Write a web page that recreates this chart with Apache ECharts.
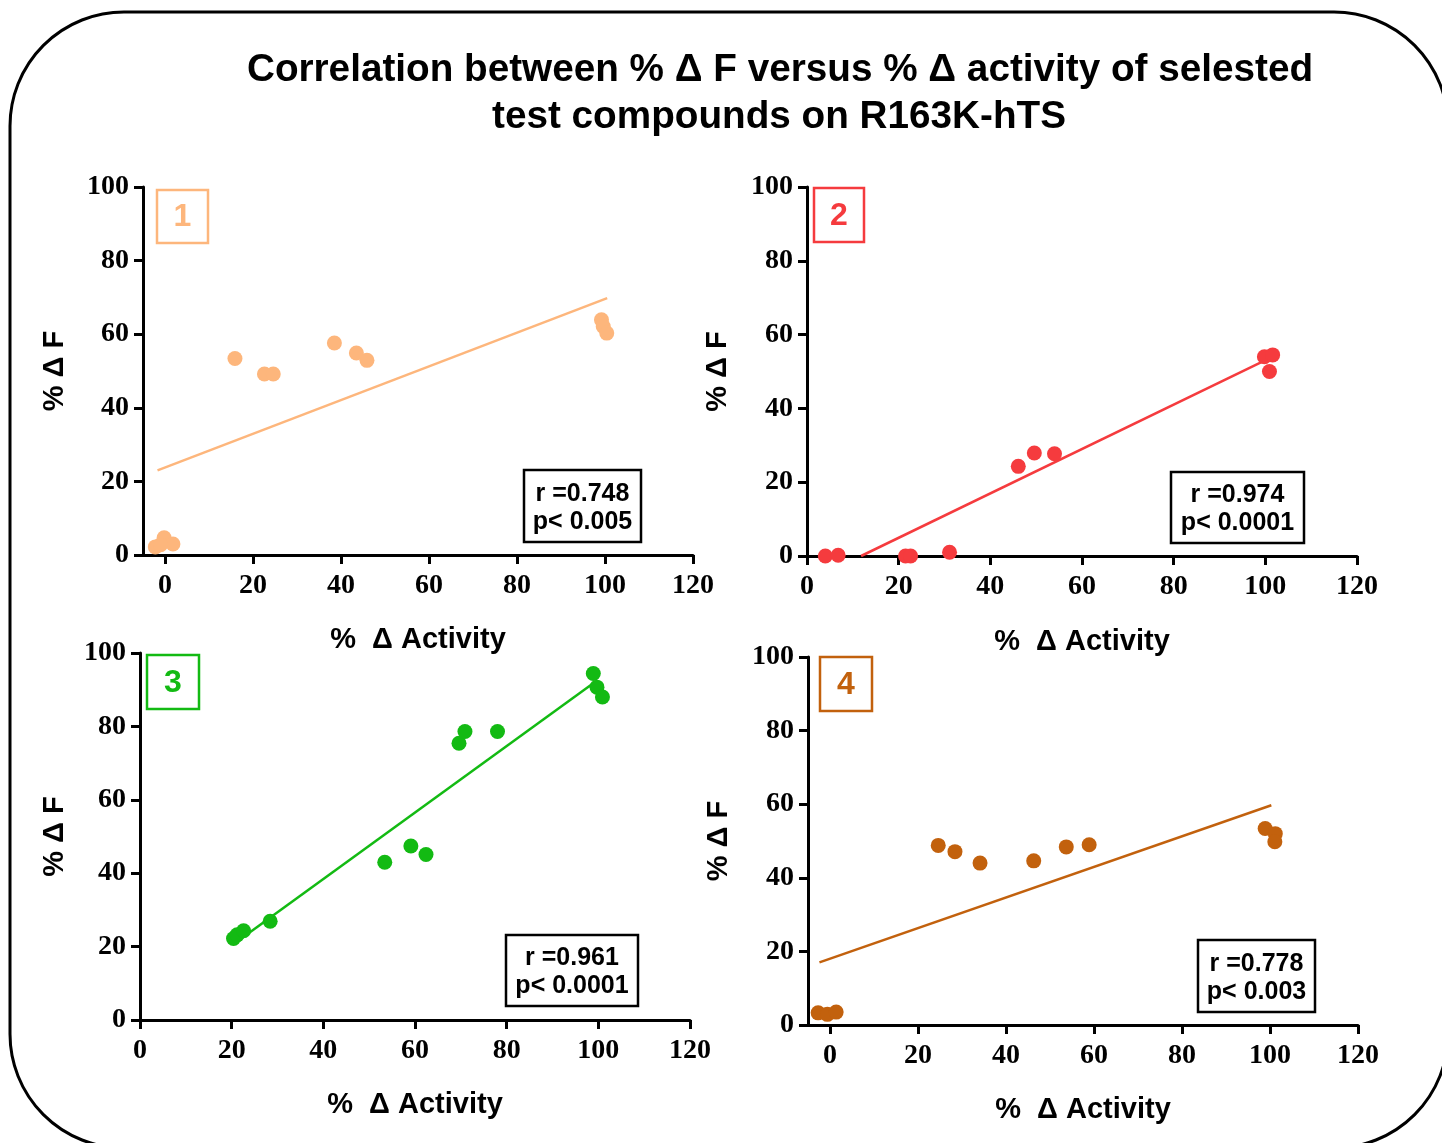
<!DOCTYPE html>
<html><head><meta charset="utf-8">
<script src="https://cdn.jsdelivr.net/npm/echarts@6/dist/echarts.min.js"></script>
<style>html,body{margin:0;padding:0;background:#fff}#c{width:1442px;height:1143px}</style>
</head><body><div id="c"></div>
<script>
// ---- data ----
const xTicks = [0, 20, 40, 60, 80, 100, 120];
const yTicks = [0, 20, 40, 60, 80, 100];
const titleLines = ['Correlation between % \u0394 F versus % \u0394 activity of selested', 'test compounds on R163K-hTS'];
const xTitle = '%  \u0394 Activity';
const yTitle = '% \u0394 F';
const panelNames = ['1', '2', '3', '4'];
const rValues = ['r =0.748', 'r =0.974', 'r =0.961', 'r =0.778'];
const pValues = ['p< 0.005', 'p< 0.0001', 'p< 0.0001', 'p< 0.003'];

const p1X = [-2.2, -0.2, 1.8, -1.0, 15.9, 22.6, 24.6, 38.5, 43.5, 45.9, 99.2, 99.6, 100.4];
const p1Y = [2.2, 4.7, 3.0, 2.8, 53.4, 49.2, 49.2, 57.6, 54.9, 52.9, 63.9, 62.1, 60.3];
const fit1X = [-1.7, 100.5];
const fit1Y = [23.0, 69.8];

const p2X = [4.0, 6.8, 21.5, 22.6, 31.1, 46.1, 49.6, 54.0, 99.8, 101.6, 100.9];
const p2Y = [0, 0.2, 0, 0, 1.0, 24.3, 27.9, 27.7, 54.0, 54.5, 50.0];
const fit2X = [11.8, 99.6];
const fit2Y = [0, 52.8];

const p3X = [20.4, 21.2, 22.6, 28.4, 53.4, 59.1, 62.4, 69.6, 70.9, 78.0, 98.9, 99.7, 100.9];
const p3Y = [22.2, 23.2, 24.3, 26.9, 43.0, 47.4, 45.1, 75.4, 78.6, 78.6, 94.4, 90.7, 88.0];
const fit3X = [20.3, 99.2];
const fit3Y = [20.6, 92.0];

const p4X = [-2.7, -0.6, 1.4, 24.6, 28.4, 34.1, 46.3, 53.7, 58.9, 98.9, 101.2, 101.1];
const p4Y = [3.3, 2.9, 3.5, 48.8, 47.1, 44.0, 44.6, 48.4, 49.0, 53.4, 52.0, 49.8];
const fit4X = [-2.4, 100.3];
const fit4Y = [17.0, 59.7];

// ---- style / layout ----
const colors = ['#FDB67C', '#F53B3E', '#13BA13', '#C2610D'];
const grids = [
  {left: 143, top: 187, width: 550, height: 368},
  {left: 807, top: 187, width: 550, height: 369},
  {left: 140, top: 653, width: 550, height: 367},
  {left: 808, top: 657, width: 550, height: 368}
];
const xMins = [-5, 0, 0, -5];
const xNameGap = [70, 71, 70, 70];
const yNameGap = [74, 75, 71, 75];
const numBoxes = [
  {x: 157, y: 190, w: 51, h: 53},
  {x: 814, y: 188, w: 50, h: 54},
  {x: 147, y: 655, w: 52, h: 54},
  {x: 820, y: 657, w: 52, h: 54}
];
const statBoxes = [
  {x: 524, y: 470, w: 117, h: 72},
  {x: 1171, y: 472, w: 133, h: 71},
  {x: 506, y: 935, w: 132, h: 71},
  {x: 1198, y: 940, w: 117, h: 72}
];

const pts = [[p1X, p1Y], [p2X, p2Y], [p3X, p3Y], [p4X, p4Y]];
const fits = [[fit1X, fit1Y], [fit2X, fit2Y], [fit3X, fit3Y], [fit4X, fit4Y]];
const zip = (a, b) => a.map((v, i) => [v, b[i]]);

const serif = '"Liberation Serif", "Times New Roman", serif';
const sans = '"Liberation Sans", Arial, sans-serif';

const xAxes = [], yAxes = [], series = [], graphics = [];
for (let i = 0; i < 4; i++) {
  xAxes.push({
    type: 'value', gridIndex: i, min: xMins[i], max: 120,
    name: xTitle, nameLocation: 'middle', nameGap: xNameGap[i],
    nameTextStyle: {fontFamily: sans, fontWeight: 'bold', fontSize: 29, color: '#000'},
    axisLine: {onZero: false, lineStyle: {color: '#000', width: 3}},
    axisTick: {show: true, length: 9, inside: false, customValues: xTicks, lineStyle: {color: '#000', width: 3}},
    axisLabel: {customValues: xTicks, margin: 17, fontFamily: serif, fontWeight: 'bold', fontSize: 28, color: '#000'},
    splitLine: {show: false}
  });
  yAxes.push({
    type: 'value', gridIndex: i, min: 0, max: 100, interval: 20,
    name: yTitle, nameLocation: 'middle', nameGap: yNameGap[i], nameRotate: 90,
    nameTextStyle: {fontFamily: sans, fontWeight: 'bold', fontSize: 29, color: '#000'},
    axisLine: {onZero: false, lineStyle: {color: '#000', width: 3}},
    axisTick: {show: true, length: 9, inside: false, lineStyle: {color: '#000', width: 3}},
    axisLabel: {margin: 14, fontFamily: serif, fontWeight: 'bold', fontSize: 28, color: '#000'},
    splitLine: {show: false}
  });
  series.push({
    type: 'line', xAxisIndex: i, yAxisIndex: i, data: zip(fits[i][0], fits[i][1]),
    showSymbol: false, symbol: 'none', lineStyle: {color: colors[i], width: 2.5}, z: 2, silent: true
  });
  series.push({
    type: 'scatter', xAxisIndex: i, yAxisIndex: i, data: zip(pts[i][0], pts[i][1]),
    symbol: 'circle', symbolSize: 15, itemStyle: {color: colors[i], opacity: 1}, z: 3, silent: true
  });
  const nb = numBoxes[i];
  graphics.push({type: 'rect', shape: {x: nb.x, y: nb.y, width: nb.w, height: nb.h},
    style: {fill: '#fff', stroke: colors[i], lineWidth: 2.5}, z: 10});
  graphics.push({type: 'text', x: nb.x + nb.w / 2, y: nb.y + nb.h / 2 + 1,
    style: {text: panelNames[i], fill: colors[i], font: 'bold 32px ' + sans, textAlign: 'center', textVerticalAlign: 'middle'}, z: 11});
  const sb = statBoxes[i];
  graphics.push({type: 'rect', shape: {x: sb.x, y: sb.y, width: sb.w, height: sb.h},
    style: {fill: '#fff', stroke: '#000', lineWidth: 2.5}, z: 10});
  graphics.push({type: 'text', x: sb.x + sb.w / 2, y: sb.y + sb.h * 0.33,
    style: {text: rValues[i], fill: '#000', font: 'bold 25px ' + sans, textAlign: 'center', textVerticalAlign: 'middle'}, z: 11});
  graphics.push({type: 'text', x: sb.x + sb.w / 2, y: sb.y + sb.h * 0.72,
    style: {text: pValues[i], fill: '#000', font: 'bold 25px ' + sans, textAlign: 'center', textVerticalAlign: 'middle'}, z: 11});
}

graphics.push({type: 'rect', shape: {x: 10, y: 12, width: 1438, height: 1136, r: 114},
  style: {fill: 'none', stroke: '#000', lineWidth: 3}, z: 0, silent: true});
graphics.push({type: 'text', x: 780, y: 70,
  style: {text: titleLines[0], fill: '#000', font: 'bold 38.7px ' + sans, textAlign: 'center', textVerticalAlign: 'middle'}, z: 11});
graphics.push({type: 'text', x: 779, y: 117,
  style: {text: titleLines[1], fill: '#000', font: 'bold 38.7px ' + sans, textAlign: 'center', textVerticalAlign: 'middle'}, z: 11});

const chart = echarts.init(document.getElementById('c'), null, {renderer: 'canvas'});
chart.setOption({
  animation: false,
  backgroundColor: '#fff',
  grid: grids.map(g => Object.assign({containLabel: false}, g)),
  xAxis: xAxes,
  yAxis: yAxes,
  series: series,
  graphic: graphics
});
</script>
</body></html>
